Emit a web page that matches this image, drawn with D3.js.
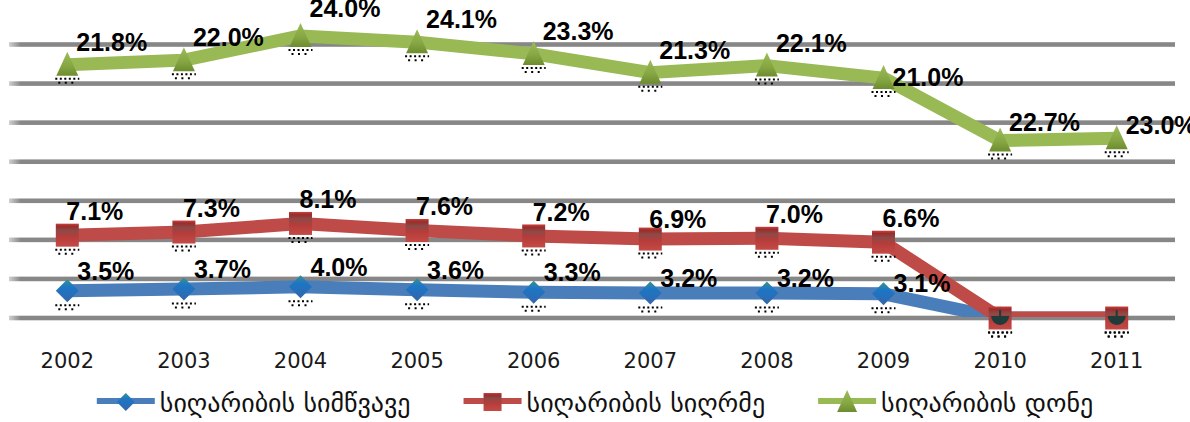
<!DOCTYPE html>
<html>
<head>
<meta charset="utf-8">
<script src="https://cdn.jsdelivr.net/npm/d3@7"></script>
<style>
  html, body { margin: 0; padding: 0; background: #fff; }
  svg { display: block; }
</style>
</head>
<body>
<svg id="chart" width="1190" height="422"></svg>
<script>
// Poverty indicators, 2002–2011 (stacked lines, values in %)
const years = ["2002", "2003", "2004", "2005", "2006", "2007", "2008", "2009", "2010", "2011"];
const severity = [3.5, 3.7, 4.0, 3.6, 3.3, 3.2, 3.2, 3.1, 0, 0];          // სიღარიბის სიმწვავე
const depth    = [7.1, 7.3, 8.1, 7.6, 7.2, 6.9, 7.0, 6.6, 0, 0];          // სიღარიბის სიღრმე
const level    = [21.8, 22.0, 24.0, 24.1, 23.3, 21.3, 22.1, 21.0, 22.7, 23.0]; // სიღარიბის დონე
const seriesNames = ["სიღარიბის სიმწვავე", "სიღარიბის სიღრმე", "სიღარიბის დონე"];
const gridTicks = [0, 5, 10, 15, 20, 25, 30, 35];

const W = 1190, H = 422;
const svg = d3.select("#chart");

const keys = ["severity", "depth", "level"];
const rows = years.map((yr, i) => ({ year: yr, severity: severity[i], depth: depth[i], level: level[i] }));
const stacked = d3.stack().keys(keys)(rows);

const x = d3.scaleBand().domain(years).range([9, 1175]);
const cx = d => x(d) + x.bandwidth() / 2;
const y = d3.scaleLinear().domain([0, 35]).range([318, 44.5]);

const colors = { severity: "#4a7ebb", depth: "#be4b48", level: "#98b954" };

// gradients for the markers and grid lines
const defs = svg.append("defs");
const grad = (id, stops, horizontal) => {
  const g = defs.append("linearGradient").attr("id", id)
    .attr("x1", 0).attr("y1", 0).attr("x2", horizontal ? 1 : 0).attr("y2", horizontal ? 0 : 1);
  stops.forEach(([o, c]) => g.append("stop").attr("offset", o).attr("stop-color", c));
};
grad("gBlue", [[0, "#3a9090"], [0.35, "#1c76c6"], [1, "#3466aa"]]);
grad("gRed", [[0, "#c8403c"], [0.12, "#9c2c2a"], [0.3, "#8c4a48"], [0.55, "#b53c3a"], [1, "#c44a46"]]);
grad("gGreen", [[0, "#9cbd5a"], [0.6, "#86a543"], [1, "#6d8c2e"]]);
grad("gGrid", [[0, "#d0d0d0"], [0.01, "#878787"], [1, "#878787"]], true);
defs.append("clipPath").attr("id", "plotClip")
  .append("rect").attr("x", 0).attr("y", 0).attr("width", W).attr("height", 317);

// horizontal grid lines
svg.append("g").selectAll("rect").data(gridTicks).join("rect")
  .attr("x", 9).attr("width", 1166)
  .attr("y", d => y(d) - 2.3).attr("height", 4.6)
  .attr("fill", "url(#gGrid)");

// x axis labels
const xAxis = svg.append("g").attr("transform", "translate(0,318)")
  .call(d3.axisBottom(x).tickSize(0).tickPadding(35));
xAxis.select(".domain").remove();
xAxis.selectAll("text")
  .attr("font-family", "DejaVu Sans").attr("font-size", 21).attr("fill", "#1a1a1a");

// lines
const line = d3.line().x(d => cx(d.data.year)).y(d => y(d[1]));
const lineG = svg.append("g").attr("clip-path", "url(#plotClip)");
stacked.forEach(s => {
  lineG.append("path").datum(s)
    .attr("d", line)
    .attr("fill", "none")
    .attr("stroke", colors[s.key])
    .attr("stroke-width", 13)
    .attr("stroke-linejoin", "round");
});

// marker shapes
const shapes = {
  severity: r => `M0,${-r}L${r},0L0,${r}L${-r},0Z`,
  depth: r => `M${-r},${-r}H${r}V${r}H${-r}Z`,
  level: r => `M0,${-r - 2}L${r},${r}H${-r}Z`
};
const fills = { severity: "url(#gBlue)", depth: "url(#gRed)", level: "url(#gGreen)" };
const sizes = { severity: 11.5, depth: 11.5, level: 11 };

stacked.forEach(s => {
  const g = svg.append("g");
  const pts = g.selectAll("g").data(s).join("g")
    .attr("transform", d => `translate(${cx(d.data.year)},${y(d[1])})`);
  // dotted drop shadow beneath the marker
  pts.append("line")
    .attr("x1", -12).attr("x2", 12)
    .attr("y1", sizes[s.key] + 3).attr("y2", sizes[s.key] + 3)
    .attr("stroke", "#000").attr("stroke-width", 2).attr("stroke-dasharray", "2,2.5");
  pts.append("line")
    .attr("x1", -9).attr("x2", 10)
    .attr("y1", sizes[s.key] + 7).attr("y2", sizes[s.key] + 7)
    .attr("stroke", "#000").attr("stroke-width", 2).attr("stroke-dasharray", "2,4.5");
  pts.append("path")
    .attr("d", shapes[s.key](sizes[s.key]))
    .attr("fill", fills[s.key]);
});

// zero-valued severity markers show through the depth markers as a dark dome
svg.append("g").selectAll("path").data(stacked[0].filter(d => d.data.severity === 0)).join("path")
  .attr("transform", d => `translate(${cx(d.data.year)},${y(d[1])})`)
  .attr("d", "M-9,-2A9,9 0 0 0 9,-2Z M-1,-2V-8H1V-2Z")
  .attr("fill", "#1f3b3a");

// value labels
const labelOffset = { severity: [10, -20], depth: [-1, -24], level: [9, -23] };
const labelNudge = { "level-2004": -5, "level-2009": 22, "level-2011": 10, "level-2010": 4, "severity-2007": 5, "severity-2008": 5, "severity-2009": 9, "depth-2007": 4 };
const fmt = d3.format(".1f");
stacked.forEach(s => {
  svg.append("g").selectAll("text").data(s.filter(d => d.data[s.key] > 0)).join("text")
    .attr("x", d => cx(d.data.year) + labelOffset[s.key][0])
    .attr("y", d => y(d[1]) + labelOffset[s.key][1] + 9 + (labelNudge[s.key + "-" + d.data.year] || 0))
    .attr("font-family", "Liberation Sans").attr("font-weight", "bold").attr("font-size", 25)
    .attr("fill", "#000")
    .text(d => fmt(d.data[s.key]) + "%");
});

// legend
const legend = svg.append("g");
const legendY = 401;
const entries = legend.selectAll("g").data(keys).join("g");
entries.append("text")
  .attr("x", 63).attr("y", legendY + 11)
  .attr("font-family", "DejaVu Sans").attr("font-size", 26).attr("fill", "#111")
  .text((d, i) => seriesNames[i]);
const widths = [];
entries.each(function () { widths.push(d3.select(this).select("text").node().getComputedTextLength()); });
const total = widths.reduce((a, w) => a + 63 + w, 0) + 53 * (keys.length - 1);
let xpos = W / 2 - total / 2;
entries.each(function (d, i) {
  d3.select(this).attr("transform", `translate(${xpos},0)`);
  xpos += 63 + widths[i] + 53;
});
entries.insert("line", "text")
  .attr("x1", 0).attr("x2", 58).attr("y1", legendY).attr("y2", legendY)
  .attr("stroke", d => colors[d]).attr("stroke-width", 6);
entries.insert("path", "text")
  .attr("transform", `translate(29,${legendY + 1})`)
  .attr("d", d => shapes[d](d === "level" ? 10 : 9))
  .attr("fill", d => fills[d]);
</script>
</body>
</html>
